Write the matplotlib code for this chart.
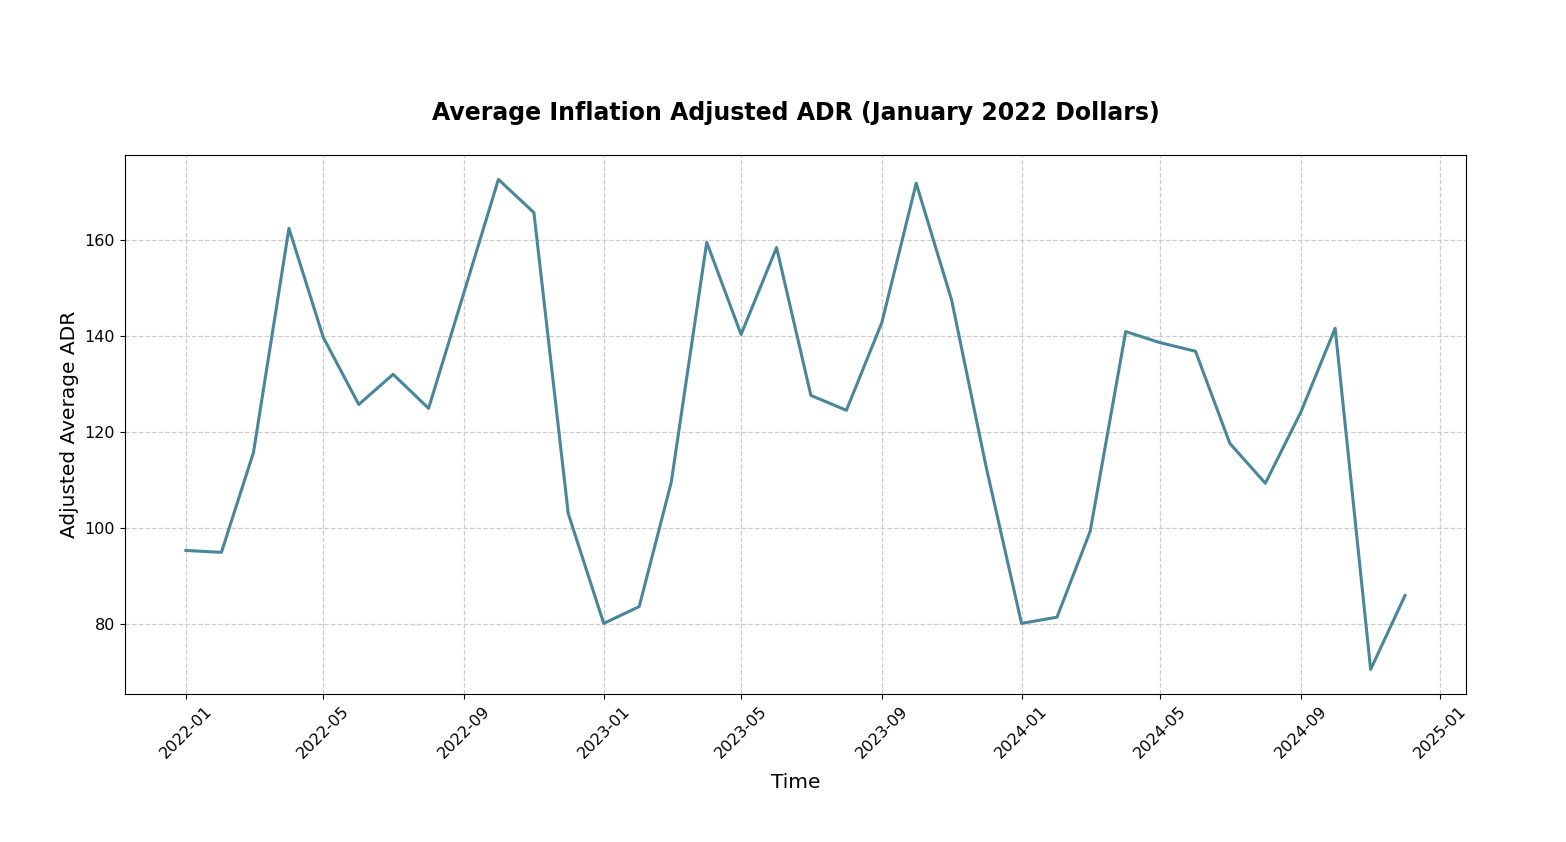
import numpy as np
import pandas as pd
import matplotlib
matplotlib.use('Agg')
import matplotlib.pyplot as plt
import matplotlib.dates as mdates

# monthly values
months = pd.date_range('2022-01-01', '2024-12-01', freq='MS')
adr = [95.4, 95.0, 115.8, 162.5, 139.8, 125.8, 132.1, 125.0, 149.2, 172.7, 165.8, 103.1,
       80.2, 83.7, 109.6, 159.6, 140.4, 158.5, 127.7, 124.6, 142.9, 171.9, 147.5, 112.9,
       80.2, 81.5, 99.4, 141.0, 138.7, 136.9, 117.7, 109.4, 124.2, 141.7, 70.6, 86.0]

fig = plt.figure(figsize=(15.66, 8.42), dpi=100)
ax = fig.add_axes([0.0798, 0.1758, 0.8563, 0.6402])

ax.plot(months, adr, color='#4a8699', linewidth=2.2)

ax.set_title('Average Inflation Adjusted ADR (January 2022 Dollars)', fontsize=17, fontweight='bold', pad=25)
ax.set_xlabel('Time', fontsize=14.5, labelpad=8)
ax.set_ylabel('Adjusted Average ADR', fontsize=14.5)
ax.grid(True, linestyle='--', color='#cccccc', linewidth=0.9)

ax.xaxis.set_major_locator(mdates.MonthLocator(bymonth=[1, 5, 9]))
ax.xaxis.set_major_formatter(mdates.DateFormatter('%Y-%m'))
ax.tick_params(axis='both', labelsize=11.5)
plt.setp(ax.get_xticklabels(), rotation=45)

fig.savefig('out.png', dpi=100)
